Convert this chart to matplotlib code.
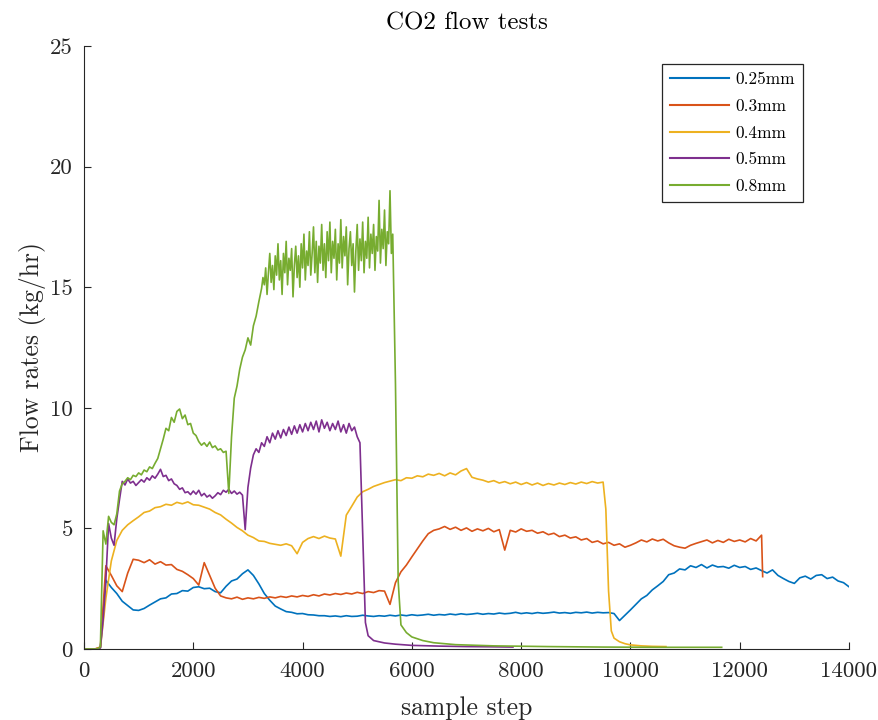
import numpy as np
import matplotlib
matplotlib.use("Agg")
import matplotlib.pyplot as plt

# ---------------------------------------------------------------- data
# Flow rate (kg/hr) logged per sample step for five orifice sizes.

labels = ["0.25mm", "0.3mm", "0.4mm", "0.5mm", "0.8mm"]
colors = ["#0072BD", "#D95319", "#EDB120", "#7E2F8E", "#77AC30"]

# 0.25mm: one reading every 100 sample steps
steps_025 = np.arange(0, 14001, 100)
flow_025 = [
    0.00, 0.00, 0.00, 0.05, 2.85, 2.55, 2.30, 1.98, 1.80, 1.62,
    1.60, 1.68, 1.82, 1.95, 2.08, 2.12, 2.28, 2.30, 2.42, 2.40,
    2.55, 2.58, 2.50, 2.52, 2.38, 2.33, 2.60, 2.82, 2.90, 3.12,
    3.28, 3.05, 2.70, 2.30, 2.02, 1.78, 1.66, 1.55, 1.52, 1.46,
    1.47, 1.42, 1.41, 1.38, 1.38, 1.35, 1.37, 1.34, 1.38, 1.35,
    1.36, 1.40, 1.37, 1.35, 1.38, 1.36, 1.40, 1.37, 1.41, 1.38,
    1.42, 1.39, 1.41, 1.44, 1.40, 1.43, 1.41, 1.45, 1.42, 1.46,
    1.43, 1.45, 1.48, 1.44, 1.47, 1.45, 1.49, 1.46, 1.48, 1.52,
    1.47, 1.50, 1.47, 1.51, 1.48, 1.50, 1.53, 1.49, 1.51, 1.48,
    1.52, 1.50, 1.53, 1.49, 1.52, 1.50, 1.51, 1.47, 1.18, 1.40,
    1.62, 1.85, 2.08, 2.22, 2.45, 2.62, 2.80, 3.08, 3.15, 3.32,
    3.28, 3.45, 3.38, 3.50, 3.36, 3.48, 3.40, 3.42, 3.35, 3.47,
    3.38, 3.42, 3.30, 3.36, 3.25, 3.15, 3.28, 3.05, 2.92, 2.80,
    2.72, 2.95, 3.02, 2.90, 3.05, 3.08, 2.92, 2.98, 2.82, 2.75,
    2.58,
]

# 0.3mm: every 100 steps up to 12400, then the shut-off reading
steps_03 = np.r_[np.arange(0, 12401, 100), 12420]
flow_03 = [
    0.00, 0.00, 0.00, 0.08, 3.45, 3.05, 2.62, 2.38, 3.15, 3.72,
    3.68, 3.58, 3.70, 3.52, 3.62, 3.48, 3.50, 3.30, 3.22, 3.08,
    2.92, 2.65, 3.58, 3.05, 2.52, 2.20, 2.12, 2.08, 2.15, 2.06,
    2.12, 2.08, 2.14, 2.10, 2.16, 2.12, 2.18, 2.14, 2.20, 2.16,
    2.22, 2.18, 2.25, 2.20, 2.28, 2.24, 2.30, 2.26, 2.32, 2.28,
    2.35, 2.30, 2.38, 2.34, 2.42, 2.40, 1.85, 2.75, 3.20, 3.48,
    3.82, 4.15, 4.48, 4.78, 4.92, 4.98, 5.08, 4.96, 5.05, 4.92,
    5.02, 4.88, 4.98, 4.90, 5.00, 4.86, 4.95, 4.10, 4.92, 4.85,
    4.98, 4.88, 4.92, 4.80, 4.86, 4.74, 4.80, 4.66, 4.72, 4.60,
    4.65, 4.52, 4.58, 4.42, 4.48, 4.36, 4.42, 4.30, 4.36, 4.22,
    4.30, 4.40, 4.52, 4.44, 4.56, 4.48, 4.55, 4.40, 4.28, 4.22,
    4.18, 4.30, 4.38, 4.45, 4.52, 4.40, 4.50, 4.42, 4.55, 4.46,
    4.52, 4.44, 4.58, 4.48, 4.72, 3.00,
]

# 0.4mm: every 100 steps up to 9500, then the decay after shut-off
steps_04 = np.r_[np.arange(0, 9501, 100),
                 [9550, 9600, 9650, 9700, 9800, 9900, 10000, 10200, 10400, 10650]]
flow_04 = [
    0.00, 0.00, 0.00, 0.05, 2.10, 3.65, 4.50, 4.92, 5.15, 5.32,
    5.48, 5.66, 5.72, 5.86, 5.90, 6.00, 5.96, 6.08, 6.02, 6.10,
    5.98, 5.96, 5.88, 5.80, 5.66, 5.56, 5.38, 5.22, 5.04, 4.90,
    4.72, 4.62, 4.48, 4.46, 4.38, 4.34, 4.30, 4.36, 4.28, 3.95,
    4.42, 4.58, 4.66, 4.58, 4.68, 4.60, 4.56, 3.85, 5.55, 5.92,
    6.30, 6.52, 6.62, 6.74, 6.82, 6.90, 6.96, 7.02, 6.98, 7.10,
    7.08, 7.18, 7.14, 7.25, 7.20, 7.28, 7.18, 7.30, 7.22, 7.38,
    7.48, 7.12, 7.05, 7.00, 6.92, 6.98, 6.88, 6.94, 6.85, 6.92,
    6.82, 6.90, 6.80, 6.88, 6.78, 6.86, 6.80, 6.88, 6.82, 6.90,
    6.84, 6.92, 6.86, 6.94, 6.88, 6.92,
    5.80, 2.40, 0.75, 0.45, 0.30, 0.22, 0.17, 0.13, 0.11, 0.10,
]

# 0.5mm: every 50 steps up to 5100, then the decay after shut-off
steps_05 = np.r_[np.arange(0, 5101, 50),
                 [5150, 5200, 5300, 5500, 5700, 6000, 6500, 7000, 7500, 7850]]
flow_05 = [
    0.00, 0.00, 0.00, 0.00, 0.00, 0.00, 0.05, 1.20, 2.85, 5.20,
    4.60, 4.30, 5.40, 6.20, 6.95, 6.80, 7.05, 6.88, 6.95, 6.78,
    6.90, 7.02, 6.92, 7.10, 7.00, 7.18, 7.08, 7.25, 7.45, 7.15,
    7.20, 6.98, 7.05, 6.85, 6.78, 6.62, 6.68, 6.48, 6.52, 6.40,
    6.55, 6.42, 6.58, 6.35, 6.45, 6.30, 6.38, 6.25, 6.35, 6.48,
    6.40, 6.58, 6.50, 6.62, 6.45, 6.55, 6.42, 6.50, 6.38, 4.95,
    6.70, 7.50, 8.05, 8.30, 8.15, 8.55, 8.40, 8.80, 8.55, 8.95,
    8.70, 9.05, 8.75, 9.10, 8.85, 9.20, 8.90, 9.25, 8.95, 9.30,
    9.00, 9.35, 9.05, 9.40, 9.10, 9.45, 9.00, 9.50, 9.15, 9.40,
    9.05, 9.35, 9.10, 9.45, 9.00, 9.30, 8.95, 9.35, 9.05, 9.20,
    8.80, 8.55, 4.80,
    1.10, 0.55, 0.35, 0.25, 0.20, 0.15, 0.12, 0.10, 0.09, 0.08,
]

# 0.8mm: every 50 steps up to 3200, every 25 steps through the
# high-flow plateau, then the decay after shut-off
steps_08 = np.r_[np.arange(0, 3201, 50),
                 np.arange(3250, 5651, 25),
                 [5700, 5750, 5800, 5900, 6000, 6200, 6400, 6800, 7500,
                  8500, 9500, 10500, 11670]]
flow_08 = [
    0.00, 0.00, 0.00, 0.00, 0.00, 0.00, 0.10, 4.90, 4.35, 5.50,
    5.25, 5.15, 5.60, 6.55, 6.85, 6.95, 7.10, 7.02, 7.20, 7.15,
    7.30, 7.22, 7.42, 7.35, 7.55, 7.48, 7.70, 7.90, 8.30, 8.70,
    9.15, 9.05, 9.60, 9.40, 9.85, 9.95, 9.55, 9.70, 9.30, 9.35,
    8.95, 8.85, 8.60, 8.45, 8.55, 8.40, 8.58, 8.35, 8.42, 8.25,
    8.30, 8.15, 8.20, 6.45, 8.80, 10.40, 10.90, 11.60, 12.10, 12.40,
    12.90, 12.60, 13.40, 13.80, 14.40,
    14.95, 15.40, 15.10, 15.80, 14.70, 15.60, 16.40, 15.20, 15.90, 14.90,
    16.30, 15.50, 16.80, 15.30, 16.10, 14.70, 16.40, 15.60, 16.90, 15.10,
    16.20, 15.70, 16.60, 14.60, 15.90, 16.70, 15.40, 16.30, 15.00, 16.80,
    15.80, 17.20, 15.30, 16.50, 15.90, 17.30, 15.50, 16.40, 17.50, 15.60,
    16.90, 15.20, 16.70, 16.00, 17.60, 15.70, 16.80, 15.40, 17.30, 16.10,
    17.70, 15.60, 16.90, 16.20, 17.40, 15.30, 16.80, 16.00, 17.80, 15.80,
    17.10, 16.30, 17.50, 15.10, 16.60, 17.30, 15.90, 16.80, 14.80, 16.50,
    17.60, 15.70, 17.00, 16.10, 17.70, 15.60, 16.90, 16.20, 17.90, 15.80,
    17.20, 16.40, 17.60, 15.70, 17.10, 16.50, 18.60, 16.00, 17.40, 16.60,
    18.20, 15.90, 17.30, 16.80, 19.00, 16.40, 17.20,
    11.00, 2.80, 1.00, 0.68, 0.50, 0.35, 0.26, 0.18, 0.13,
    0.10, 0.08, 0.07, 0.07,
]

series = [
    (steps_025, flow_025),
    (steps_03, flow_03),
    (steps_04, flow_04),
    (steps_05, flow_05),
    (steps_08, flow_08),
]

x_ticks = [0, 2000, 4000, 6000, 8000, 10000, 12000, 14000]
y_ticks = [0, 5, 10, 15, 20, 25]

# ---------------------------------------------------------------- style
plt.rcParams["font.family"] = ["cmr10", "DejaVu Serif"]
plt.rcParams["mathtext.fontset"] = "cm"
plt.rcParams["axes.formatter.use_mathtext"] = True
axis_grey = "#262626"

fig = plt.figure(figsize=(8.79, 7.20), dpi=100)
ax = fig.add_axes([84 / 879, 71 / 720, 765 / 879, 603 / 720])

for (x, y), lab, col in zip(series, labels, colors):
    ax.plot(x, y, color=col, lw=1.2, label=lab)

ax.set_xlim(0, 14000)
ax.set_ylim(0, 25)
ax.set_xticks(x_ticks)
ax.set_yticks(y_ticks)
ax.set_xticklabels([str(t) for t in x_ticks])
ax.set_yticklabels([str(t) for t in y_ticks])

for side in ("top", "right"):
    ax.spines[side].set_visible(False)
for side in ("left", "bottom"):
    ax.spines[side].set_color(axis_grey)
    ax.spines[side].set_linewidth(0.8)

ax.tick_params(axis="both", direction="in", length=5, width=0.8,
               colors=axis_grey, labelsize=16.5)
ax.tick_params(axis="x", pad=9)
ax.tick_params(axis="y", pad=8)

ax.set_title("CO2 flow tests", fontsize=18, color="black", pad=12)
ax.set_xlabel("sample step", fontsize=18.5, color=axis_grey, labelpad=11)
ax.set_ylabel("Flow rates (kg/hr)", fontsize=18.5, color=axis_grey, labelpad=3)

leg = ax.legend(loc="upper right", bbox_to_anchor=(719 / 765, 585 / 603),
                borderaxespad=0, fontsize=12.5, frameon=True, fancybox=False,
                framealpha=1, edgecolor=axis_grey, handlelength=3.4,
                handletextpad=0.4, borderpad=0.45, labelspacing=0.66)
leg.get_frame().set_linewidth(0.9)
for line in leg.get_lines():
    line.set_linewidth(1.5)

fig.savefig("out.png", dpi=100)
